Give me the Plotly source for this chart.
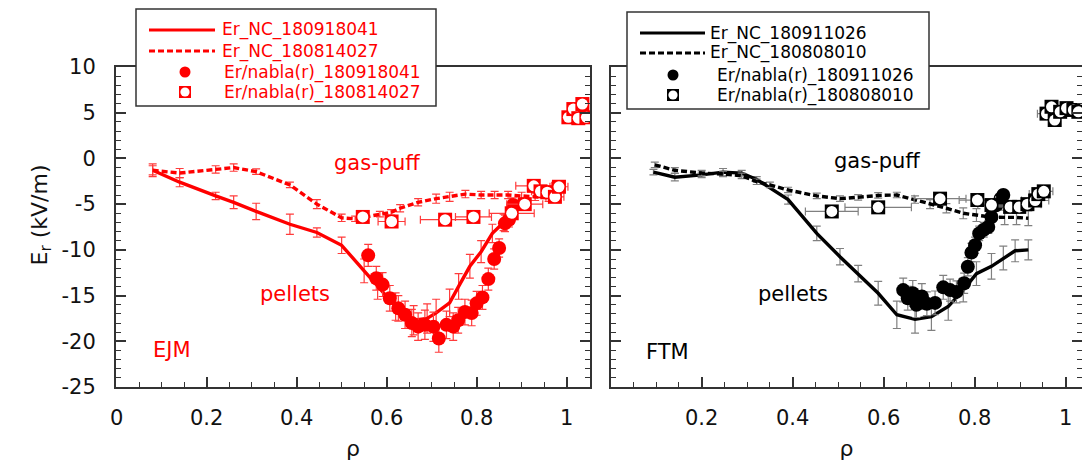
import plotly.graph_objects as go

# ---------------- data: left panel (EJM, red) ----------------
ejm_nc_pel_x = [0.08, 0.14, 0.22, 0.26, 0.31, 0.385, 0.445, 0.5, 0.55, 0.58, 0.62, 0.66, 0.69, 0.71, 0.74, 0.76, 0.785, 0.81, 0.835, 0.86, 0.875]
ejm_nc_pel_y = [-1.3, -2.6, -4.1, -4.8, -5.8, -7.2, -8.1, -9.5, -12.3, -14.0, -16.2, -17.7, -17.5, -16.9, -15.8, -14.0, -11.8, -10.2, -8.2, -7.0, -6.3]
ejm_nc_pel_e = [0.7, 0.5, 0.4, 0.7, 0.9, 1.1, 0.5, 0.9, 1.3, 1.4, 1.5, 1.6, 1.6, 1.5, 1.5, 1.4, 1.3, 1.2, 1.0, 0.9, 0.8]

ejm_nc_gas_x = [0.08, 0.14, 0.22, 0.26, 0.31, 0.385, 0.445, 0.5, 0.53, 0.585, 0.61, 0.63, 0.67, 0.71, 0.74, 0.775, 0.81, 0.84, 0.87, 0.9, 0.93, 0.96, 0.98]
ejm_nc_gas_y = [-1.3, -1.6, -1.2, -1.0, -1.45, -2.9, -5.0, -6.5, -6.6, -6.1, -5.9, -5.45, -4.8, -4.4, -4.2, -3.9, -4.0, -4.0, -4.0, -4.1, -4.2, -4.3, -4.2]
ejm_nc_gas_e = [0.5, 0.5, 0.4, 0.4, 0.3, 0.3, 0.5, 0.4, 0.3, 0.3, 0.3, 0.4, 0.4, 0.5, 0.5, 0.4, 0.4, 0.4, 0.4, 0.4, 0.4, 0.4, 0.4]

ejm_grad_pel_x = [0.559, 0.577, 0.591, 0.607, 0.626, 0.641, 0.656, 0.67, 0.685, 0.704, 0.716, 0.733, 0.748, 0.759, 0.774, 0.789, 0.80, 0.813, 0.826, 0.839, 0.85, 0.863, 0.872, 0.881]
ejm_grad_pel_y = [-10.6, -13.1, -13.8, -15.3, -16.4, -17.1, -18.0, -18.4, -18.2, -18.4, -19.7, -18.2, -18.4, -17.7, -16.8, -16.9, -15.85, -15.2, -13.2, -11.0, -9.8, -7.1, -6.7, -5.1]
ejm_grad_pel_ey = [1.2, 1.3, 1.3, 1.4, 1.4, 1.5, 1.5, 1.5, 1.6, 1.6, 1.5, 1.5, 1.5, 1.4, 1.4, 1.4, 1.3, 1.3, 1.2, 1.1, 1.0, 0.9, 0.8, 0.8]
ejm_grad_pel_ex = [0.01] * 24

ejm_grad_gas_x = [0.547, 0.611, 0.73, 0.793, 0.878, 0.907, 0.927, 0.942, 0.957, 0.974, 0.983, 1.004, 1.015, 1.026, 1.035, 1.044]
ejm_grad_gas_y = [-6.4, -6.9, -6.7, -6.4, -6.0, -5.0, -3.0, -3.6, -3.7, -4.2, -3.1, 4.5, 5.4, 4.4, 5.95, 4.5]
ejm_grad_gas_ex = [0.01, 0.03, 0.055, 0.04, 0.05, 0.04, 0.04, 0.02, 0.02, 0.02, 0.02, 0.01, 0.01, 0.01, 0.01, 0.01]
ejm_grad_gas_ey = [0.3] * 16

ejm_names = ["Er_NC_180918041", "Er_NC_180814027", "Er/nabla(r)_180918041", "Er/nabla(r)_180814027"]

# ---------------- data: right panel (FTM, black) ----------------
ftm_nc_pel_x = [0.094, 0.141, 0.2, 0.247, 0.288, 0.321, 0.39, 0.453, 0.504, 0.544, 0.588, 0.629, 0.669, 0.705, 0.742, 0.775, 0.804, 0.837, 0.863, 0.889, 0.918]
ftm_nc_pel_y = [-1.5, -2.05, -1.8, -1.5, -1.6, -2.3, -4.5, -8.2, -10.75, -12.6, -14.75, -17.1, -17.6, -17.3, -16.2, -14.4, -12.6, -11.8, -10.9, -10.1, -10.0]
ftm_nc_pel_e = [0.3, 0.4, 0.3, 0.4, 0.3, 0.3, 0.5, 0.8, 0.9, 0.9, 1.3, 1.5, 1.5, 1.5, 1.5, 1.3, 1.3, 1.4, 1.3, 1.2, 1.1]

ftm_nc_gas_x = [0.097, 0.141, 0.2, 0.247, 0.288, 0.321, 0.35, 0.39, 0.453, 0.504, 0.544, 0.588, 0.629, 0.669, 0.702, 0.738, 0.775, 0.804, 0.834, 0.866, 0.892, 0.918]
ftm_nc_gas_y = [-0.7, -1.3, -1.6, -1.7, -1.9, -2.55, -2.9, -3.45, -4.1, -4.4, -4.25, -4.05, -4.0, -4.5, -5.0, -5.45, -6.0, -6.2, -6.4, -6.45, -6.45, -6.55]
ftm_nc_gas_e = [0.3, 0.3, 0.3, 0.3, 0.3, 0.3, 0.3, 0.3, 0.3, 0.3, 0.3, 0.3, 0.3, 0.4, 0.5, 0.5, 0.6, 0.7, 0.8, 0.8, 0.8, 0.8]

ftm_grad_pel_x = [0.643, 0.653, 0.664, 0.672, 0.684, 0.695, 0.713, 0.731, 0.746, 0.760, 0.777, 0.785, 0.793, 0.801, 0.81, 0.82, 0.83, 0.837, 0.848, 0.857, 0.863]
ftm_grad_pel_y = [-14.4, -15.3, -14.75, -16.0, -15.1, -15.9, -15.8, -14.1, -14.4, -14.6, -13.65, -11.85, -10.3, -9.5, -8.2, -7.8, -7.5, -6.4, -5.1, -4.4, -4.0]
ftm_grad_pel_ey = [1.3, 1.3, 1.4, 1.4, 1.4, 1.3, 1.3, 1.3, 1.2, 1.2, 1.1, 1.0, 1.0, 0.9, 0.8, 0.8, 0.7, 0.6, 0.5, 0.5, 0.5]
ftm_grad_pel_ex = [0.01] * 21

ftm_grad_gas_x = [0.486, 0.588, 0.724, 0.806, 0.837, 0.878, 0.898, 0.916, 0.933, 0.94, 0.952, 0.958, 0.969, 0.976, 0.988, 1.002, 1.017, 1.028]
ftm_grad_gas_y = [-5.8, -5.35, -4.4, -4.55, -5.1, -5.3, -5.3, -5.0, -4.6, -3.9, -3.6, 4.9, 5.65, 4.2, 5.1, 5.5, 5.3, 5.1]
ftm_grad_gas_ex = [0.058, 0.073, 0.057, 0.04, 0.03, 0.03, 0.03, 0.03, 0.03, 0.02, 0.02, 0.02, 0.01, 0.01, 0.01, 0.01, 0.01, 0.01]
ftm_grad_gas_ey = [0.3] * 18

ftm_names = ["Er_NC_180911026", "Er_NC_180808010", "Er/nabla(r)_180911026", "Er/nabla(r)_180808010"]

# ---------------- ticks ----------------
y_tickvals = [-25, -20, -15, -10, -5, 0, 5, 10]
y_ticktext = ["-25", "-20", "-15", "-10", "-5", "0", "5", "10"]
x_tickvals = [0, 0.2, 0.4, 0.6, 0.8, 1.0]
x_ticktext = ["0", "0.2", "0.4", "0.6", "0.8", "1"]

RED = "#ff0000"
RED_ERR = "#ff3b3b"
BLACK = "#000000"
GREY_ERR = "#808080"
FONT = "DejaVu Sans"
DASH = "6px,3px"

fig = go.Figure()


def add_line(x, y, e, color, ecolor, dash, name, xa, ya):
    fig.add_trace(go.Scatter(
        x=x, y=y, mode="lines", name=name, xaxis=xa, yaxis=ya,
        line=dict(color=color, width=3.4, dash=dash),
        error_y=dict(type="data", array=e, visible=True, color=ecolor, thickness=1.2, width=4),
    ))


def add_filled(x, y, ex, ey, color, ecolor, name, xa, ya):
    fig.add_trace(go.Scatter(
        x=x, y=y, mode="markers", name=name, xaxis=xa, yaxis=ya,
        marker=dict(symbol="circle", size=14, color=color),
        error_y=dict(type="data", array=ey, visible=True, color=ecolor, thickness=1.2, width=4),
        error_x=dict(type="data", array=ex, visible=True, color=ecolor, thickness=1.2, width=4),
    ))


def add_open(x, y, ex, ey, color, ecolor, name, xa, ya):
    # error bars
    fig.add_trace(go.Scatter(
        x=x, y=y, mode="markers", name=name, xaxis=xa, yaxis=ya, hoverinfo="skip",
        marker=dict(size=1, color="rgba(0,0,0,0)"),
        error_y=dict(type="data", array=ey, visible=True, color=ecolor, thickness=1.2, width=4),
        error_x=dict(type="data", array=ex, visible=True, color=ecolor, thickness=1.2, width=4),
    ))
    # each marker: filled square with a white circle inside
    for xi, yi in zip(x, y):
        fig.add_trace(go.Scatter(
            x=[xi], y=[yi], mode="markers", name=name, xaxis=xa, yaxis=ya,
            marker=dict(symbol="square", size=14, color=color, line=dict(width=0)),
        ))
        fig.add_trace(go.Scatter(
            x=[xi], y=[yi], mode="markers", name=name, xaxis=xa, yaxis=ya, hoverinfo="skip",
            marker=dict(symbol="circle", size=11, color="white", line=dict(width=0)),
        ))


# left panel
add_line(ejm_nc_pel_x, ejm_nc_pel_y, ejm_nc_pel_e, RED, RED_ERR, "solid", ejm_names[0], "x", "y")
add_line(ejm_nc_gas_x, ejm_nc_gas_y, ejm_nc_gas_e, RED, RED_ERR, DASH, ejm_names[1], "x", "y")
add_filled(ejm_grad_pel_x, ejm_grad_pel_y, ejm_grad_pel_ex, ejm_grad_pel_ey, RED, RED_ERR, ejm_names[2], "x", "y")
add_open(ejm_grad_gas_x, ejm_grad_gas_y, ejm_grad_gas_ex, ejm_grad_gas_ey, RED, RED_ERR, ejm_names[3], "x", "y")

# right panel
add_line(ftm_nc_pel_x, ftm_nc_pel_y, ftm_nc_pel_e, BLACK, GREY_ERR, "solid", ftm_names[0], "x2", "y2")
add_line(ftm_nc_gas_x, ftm_nc_gas_y, ftm_nc_gas_e, BLACK, GREY_ERR, DASH, ftm_names[1], "x2", "y2")
add_filled(ftm_grad_pel_x, ftm_grad_pel_y, ftm_grad_pel_ex, ftm_grad_pel_ey, BLACK, GREY_ERR, ftm_names[2], "x2", "y2")
add_open(ftm_grad_gas_x, ftm_grad_gas_y, ftm_grad_gas_ex, ftm_grad_gas_ey, BLACK, GREY_ERR, ftm_names[3], "x2", "y2")

W, H = 1082, 461
ydom = [1 - 387 / H, 1 - 67 / H]
AX = "#333333"


def px(v):
    return v / W


def py(v):
    return 1 - v / H


# ---------------- hand-made legends (layout shapes + text) ----------------
shapes = []
annotations = []


def make_legend(box, rows, line_x, mark_x, text_x_line, text_x_mark, color, names):
    x0, y0, x1, y1 = box
    shapes.append(dict(type="rect", xref="paper", yref="paper", layer="above",
                       x0=px(x0), x1=px(x1), y0=py(y1), y1=py(y0),
                       fillcolor="white", line=dict(color=AX, width=1.5)))
    for r, dash in zip(rows[:2], ["solid", DASH]):
        shapes.append(dict(type="line", xref="paper", yref="paper", layer="above",
                           x0=px(line_x[0]), x1=px(line_x[1]), y0=py(r), y1=py(r),
                           line=dict(color=color, width=3, dash=dash)))
    rr = 5.5
    shapes.append(dict(type="circle", xref="paper", yref="paper", layer="above",
                       x0=px(mark_x - rr), x1=px(mark_x + rr), y0=py(rows[2] + rr), y1=py(rows[2] - rr),
                       fillcolor=color, line=dict(width=0)))
    s = 6
    shapes.append(dict(type="rect", xref="paper", yref="paper", layer="above",
                       x0=px(mark_x - s), x1=px(mark_x + s), y0=py(rows[3] + s), y1=py(rows[3] - s),
                       fillcolor=color, line=dict(width=0)))
    c = 4.6
    shapes.append(dict(type="circle", xref="paper", yref="paper", layer="above",
                       x0=px(mark_x - c), x1=px(mark_x + c), y0=py(rows[3] + c), y1=py(rows[3] - c),
                       fillcolor="white", line=dict(width=0)))
    for i, (r, name) in enumerate(zip(rows, names)):
        tx = text_x_line if i < 2 else text_x_mark
        annotations.append(dict(text=name, x=px(tx), y=py(r), xref="paper", yref="paper",
                                xanchor="left", yanchor="middle", showarrow=False,
                                font=dict(family=FONT, size=17, color=color)))


make_legend((136, 9, 436, 106), [30, 51, 72, 92], (149, 215), 185, 220, 222, RED, ejm_names)
make_legend((627, 12, 929, 109), [33, 53, 75, 95], (640, 705), 673, 708, 715, BLACK, ftm_names)

annotations += [
    dict(text="E<sub>r</sub> (kV/m)", x=25 / W, y=1 - 215 / H, xref="paper", yref="paper",
         textangle=-90, showarrow=False, font=dict(family=FONT, size=22, color="#111")),
    dict(text="gas-puff", x=0.578, y=-0.5, xref="x", yref="y", showarrow=False,
         font=dict(family=FONT, size=21, color=RED)),
    dict(text="pellets", x=0.396, y=-14.8, xref="x", yref="y", showarrow=False,
         font=dict(family=FONT, size=21, color=RED)),
    dict(text="EJM", x=0.123, y=-21.0, xref="x", yref="y", showarrow=False,
         font=dict(family=FONT, size=21, color=RED)),
    dict(text="gas-puff", x=0.585, y=-0.3, xref="x2", yref="y2", showarrow=False,
         font=dict(family=FONT, size=21, color=BLACK)),
    dict(text="pellets", x=0.401, y=-14.8, xref="x2", yref="y2", showarrow=False,
         font=dict(family=FONT, size=21, color=BLACK)),
    dict(text="FTM", x=0.124, y=-21.2, xref="x2", yref="y2", showarrow=False,
         font=dict(family=FONT, size=21, color=BLACK)),
]

xcommon = dict(
    tickmode="array", tickvals=x_tickvals, ticktext=x_ticktext, automargin=False,
    ticks="inside", ticklen=10, tickwidth=1.5, tickcolor=AX, ticklabelstandoff=11,
    minor=dict(dtick=0.05, tick0=0, ticks="inside", ticklen=5, tickwidth=1, tickcolor=AX),
    showline=True, linecolor=AX, linewidth=2, mirror=True, showgrid=False, zeroline=False,
    tickfont=dict(family=FONT, size=21, color="#111"),
    title=dict(text="ρ", font=dict(family=FONT, size=22, color="#111"), standoff=13),
)
ycommon = dict(
    range=[-25, 10], tickmode="array", tickvals=y_tickvals, ticktext=y_ticktext, automargin=False,
    ticks="inside", ticklen=10, tickwidth=1.5, tickcolor=AX,
    minor=dict(dtick=1, tick0=0, ticks="inside", ticklen=5, tickwidth=1, tickcolor=AX),
    showline=True, linecolor=AX, linewidth=2, mirror="ticks", showgrid=False, zeroline=False,
    tickfont=dict(family=FONT, size=21, color="#111"), domain=ydom,
)

fig.update_layout(
    width=W, height=H, margin=dict(l=0, r=0, t=0, b=0, pad=0, autoexpand=False),
    paper_bgcolor="white", plot_bgcolor="white", showlegend=False,
    xaxis=dict(xcommon, domain=[116 / W, 590 / W], range=[-0.0015, 1.052], anchor="y"),
    yaxis=dict(ycommon, anchor="x", ticklabelstandoff=14),
    xaxis2=dict(xcommon, domain=[611 / W, 1.0], range=[0.0007, 1.036], anchor="y2"),
    yaxis2=dict(ycommon, anchor="x2", showticklabels=False),
    shapes=shapes,
    annotations=annotations,
)

fig.write_html("out.html")
